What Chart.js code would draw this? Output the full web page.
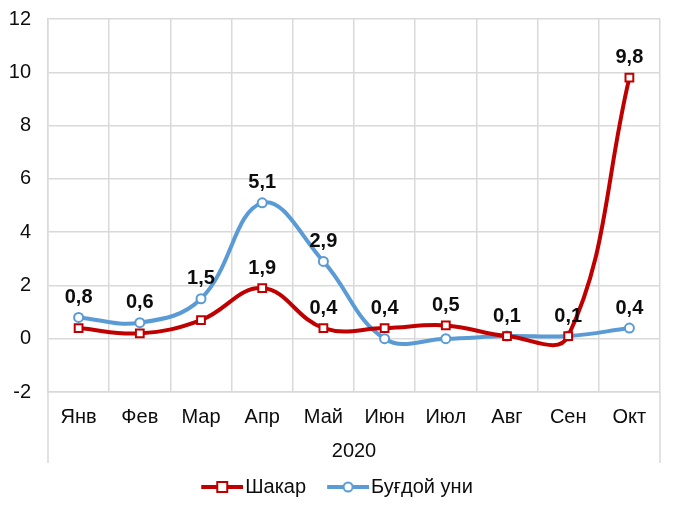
<!DOCTYPE html>
<html>
<head>
<meta charset="utf-8">
<script src="https://cdn.jsdelivr.net/npm/chart.js@4"></script>
<style>
  html, body { margin: 0; padding: 0; background: #fff; }
  #wrap { width: 680px; height: 507px; }
</style>
</head>
<body>
<div id="wrap"><canvas id="myChart"></canvas></div>
<script>
// chart data
const months = ['Янв', 'Фев', 'Мар', 'Апр', 'Май', 'Июн', 'Июл', 'Авг', 'Сен', 'Окт'];
const yearLabel = '2020';
const sugar = [0.4, 0.2, 0.7, 1.9, 0.4, 0.4, 0.5, 0.1, 0.1, 9.8];
const flour = [0.8, 0.6, 1.5, 5.1, 2.9, 0.0, 0.0, 0.1, 0.1, 0.4];
// which points carry a value label
const sugarLabels = [false, false, false, true, true, true, true, false, false, true];
const flourLabels = [true, true, true, true, true, false, false, true, true, true];
const yTicks = [-2, 0, 2, 4, 6, 8, 10, 12];

const RED = '#c00000';
const BLUE = '#5b9bd5';
const GRID = '#d9d9d9';
const INK = '#0d0d0d';
const FONT = "'Liberation Sans', Arial, sans-serif";

// legend swatch: line with marker, with a transparent strip on the left
const makeSwatch = (color, style) => {
    const c = document.createElement('canvas');
    c.width = 64;
    c.height = 14;
    const g = c.getContext('2d');
    g.strokeStyle = color;
    g.lineWidth = 4;
    g.beginPath();
    g.moveTo(22, 7);
    g.lineTo(64, 7);
    g.stroke();
    g.fillStyle = '#fff';
    g.lineWidth = 2;
    if (style === 'rect') {
        g.fillRect(38, 2, 10, 10);
        g.strokeRect(38, 2, 10, 10);
    } else {
        g.beginPath();
        g.arc(43, 7, 4.5, 0, Math.PI * 2);
        g.fill();
        g.stroke();
    }
    return c;
};

const valueLabels = {
    id: 'valueLabels',
    afterDatasetsDraw(chart) {
        const ctx = chart.ctx;
        ctx.save();
        ctx.font = 'bold 20px ' + FONT;
        ctx.fillStyle = INK;
        ctx.textAlign = 'center';
        ctx.textBaseline = 'middle';
        chart.data.datasets.forEach((ds, i) => {
            const meta = chart.getDatasetMeta(i);
            meta.data.forEach((pt, j) => {
                if (!ds.showLabel[j]) return;
                ctx.fillText(ds.data[j].toFixed(1).replace('.', ','), pt.x, pt.y - 20);
            });
        });
        ctx.restore();
    }
};

// outer frame lines of the category axis reaching down past the labels
const axisFrame = {
    id: 'axisFrame',
    beforeDatasetsDraw(chart) {
        const { ctx, chartArea } = chart;
        const end = chartArea.bottom + 71;
        ctx.save();
        ctx.strokeStyle = GRID;
        ctx.lineWidth = 1.5;
        ctx.beginPath();
        ctx.moveTo(chartArea.left, chartArea.bottom);
        ctx.lineTo(chartArea.left, end);
        ctx.moveTo(chartArea.right, chartArea.bottom);
        ctx.lineTo(chartArea.right, end);
        ctx.stroke();
        ctx.restore();
    }
};

const config = {
    type: 'line',
    data: {
        labels: months,
        datasets: [
            {
                label: 'Шакар',
                data: sugar,
                showLabel: sugarLabels,
                borderColor: RED,
                backgroundColor: '#fff',
                borderWidth: 4,
                tension: 0.4,
                pointStyle: 'rect',
                pointRadius: 5.5,
                pointBorderWidth: 2,
                pointBorderColor: RED,
                pointBackgroundColor: '#fff',
                swatch: makeSwatch(RED, 'rect'),
                fill: false
            },
            {
                label: 'Буғдой уни',
                data: flour,
                showLabel: flourLabels,
                borderColor: BLUE,
                backgroundColor: '#fff',
                borderWidth: 4,
                tension: 0.4,
                pointStyle: 'circle',
                pointRadius: 4.5,
                pointBorderWidth: 2,
                pointBorderColor: BLUE,
                pointBackgroundColor: '#fff',
                swatch: makeSwatch(BLUE, 'circle'),
                fill: false
            }
        ]
    },
    options: {
        responsive: true,
        maintainAspectRatio: false,
        animation: false,
        layout: { padding: { top: 19, right: 20, left: 0, bottom: 0 } },
        plugins: {
            tooltip: { enabled: false },
            legend: {
                position: 'bottom',
                labels: {
                    usePointStyle: true,
                    pointStyleWidth: 48,
                    padding: 7,
                    color: INK,
                    font: { family: FONT, size: 20 },
                    generateLabels: (chart) => chart.data.datasets.map((ds, i) => ({
                        text: ds.label,
                        pointStyle: ds.swatch,
                        fontColor: INK,
                        datasetIndex: i,
                        hidden: false,
                        lineWidth: 0
                    }))
                }
            }
        },
        scales: {
            x: {
                offset: true,
                grid: { offset: true, color: GRID, lineWidth: 1.5, drawTicks: false },
                border: { color: GRID, width: 1.5 },
                ticks: { color: INK, padding: 13, font: { family: FONT, size: 20 } },
                title: {
                    display: true,
                    text: yearLabel,
                    color: INK,
                    font: { family: FONT, size: 20 },
                    padding: { top: 10, bottom: 7 }
                },
                afterFit: (scale) => { scale.height = 78; }
            },
            y: {
                min: -2,
                max: 12,
                afterBuildTicks: (scale) => { scale.ticks = yTicks.map(v => ({ value: v })); },
                grid: { color: GRID, lineWidth: 1.5, drawTicks: false },
                border: { color: GRID, width: 1.5 },
                ticks: { color: INK, padding: 17, font: { family: FONT, size: 20 } },
                afterFit: (scale) => {
                    scale.width = 48;
                    scale.paddingTop = 0;
                    scale.paddingBottom = 0;
                }
            }
        }
    },
    plugins: [axisFrame, valueLabels]
};

new Chart(document.getElementById('myChart'), config);
</script>
</body>
</html>
